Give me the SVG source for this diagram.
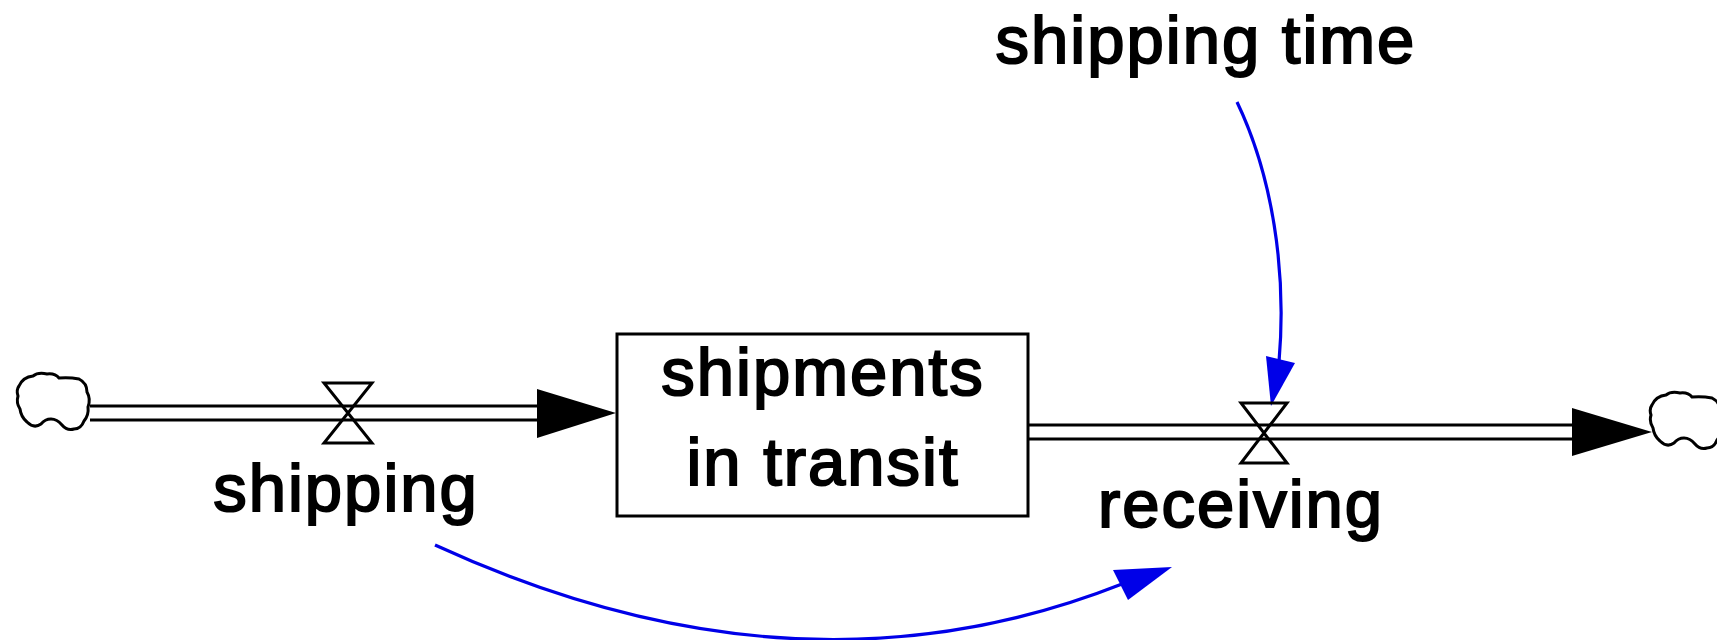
<svg xmlns="http://www.w3.org/2000/svg" width="1717" height="640" viewBox="0 0 1717 640">
  <style>
    .label { font-family: "Liberation Sans", Arial, sans-serif; font-size: 67px; letter-spacing: 2px; fill: #000; stroke: #000; stroke-width: 2; text-anchor: middle; }
    .pipe { stroke: #000; stroke-width: 3.2; fill: none; }
    .valve { stroke: #000; stroke-width: 3; fill: none; stroke-linejoin: miter; }
    .stock { stroke: #000; stroke-width: 3; fill: #fff; }
    .cloud { stroke: #000; stroke-width: 3; fill: #fff; }
    .link { stroke: #0000e8; stroke-width: 3.2; fill: none; }
    .linkhead { fill: #0000e8; }
    .flowhead { fill: #000; }
  </style>
  <defs>
    <path id="cloudShape" d="M2,13 Q6,4 16,3 Q21,-1 30,1 Q38,0 42,5 Q52,4 62,6 Q70,10 70,19 Q74,26 71,34 Q72,42 67,48 Q64,56 57,56 Q50,58 45,52 Q40,46 34,46 Q28,46 24,51 Q17,56 10,49 Q4,44 3,36 Q-1,30 1,23 Q-1,17 2,13 Z"/>
  </defs>
  <rect width="1717" height="640" fill="#fff"/>

  <!-- flow pipes and info links -->
  <g id="connectors">
    <!-- inflow pipe: source cloud to stock -->
    <line class="pipe" x1="90" y1="406" x2="540" y2="406"/>
    <line class="pipe" x1="90" y1="420" x2="540" y2="420"/>
    <polygon class="flowhead" points="537,389 616,413 537,438"/>
    <!-- outflow pipe: stock to sink cloud -->
    <line class="pipe" x1="1029" y1="425" x2="1575" y2="425"/>
    <line class="pipe" x1="1029" y1="439" x2="1575" y2="439"/>
    <polygon class="flowhead" points="1572,408 1652,432 1572,456"/>
    <!-- shipping time -> receiving -->
    <path class="link" d="M1237,102 C1272,175 1287,270 1279,362"/>
    <polygon class="linkhead" points="1266,356 1295,363 1271,406"/>
    <!-- shipping -> receiving -->
    <path class="link" d="M435,545 Q798,712 1122,584"/>
    <polygon class="linkhead" points="1113,570 1172,567 1128,600"/>
  </g>

  <g id="source-cloud">
    <use href="#cloudShape" class="cloud" transform="translate(17,373)"/>
  </g>
  <g id="sink-cloud">
    <use href="#cloudShape" class="cloud" transform="translate(1650,392)"/>
  </g>

  <g id="shipments-in-transit">
    <rect class="stock" x="617" y="334" width="411" height="182"/>
    <text class="label" x="823" y="395">shipments</text>
    <text class="label" x="823" y="485">in transit</text>
  </g>

  <g id="shipping">
    <path class="valve" d="M324,383 L372,383 L324,443 L372,443 Z"/>
    <text class="label" x="346" y="511">shipping</text>
  </g>

  <g id="receiving">
    <path class="valve" d="M1241,403 L1287,403 L1241,463 L1287,463 Z"/>
    <text class="label" x="1241" y="527">receiving</text>
  </g>

  <g id="shipping-time">
    <text class="label" x="1206" y="63">shipping time</text>
  </g>
</svg>
